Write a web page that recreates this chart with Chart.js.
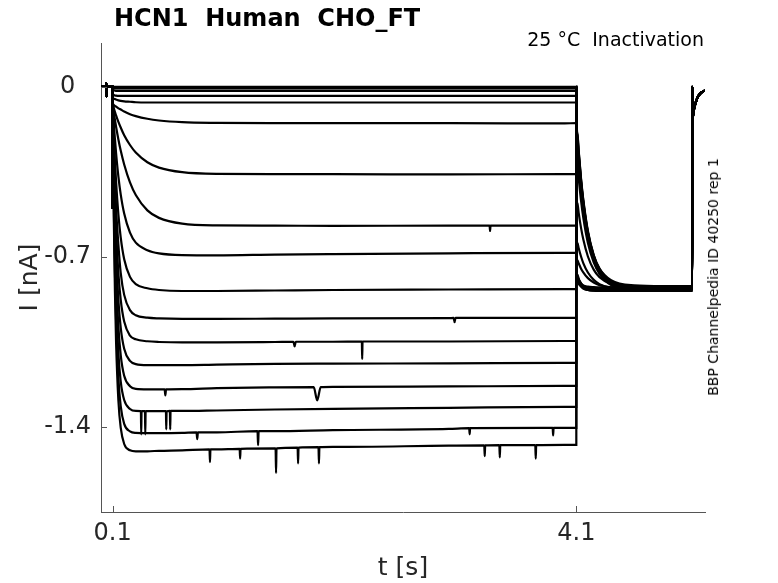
<!DOCTYPE html>
<html>
<head>
<meta charset="utf-8">
<title>HCN1 Human CHO_FT</title>
<script src="https://cdn.jsdelivr.net/npm/chart.js@4.4.1/dist/chart.umd.min.js"></script>
<style>
  html, body { margin: 0; padding: 0; background: #fff; }
  #wrap { position: relative; width: 778px; height: 583px; font-family: "DejaVu Sans", sans-serif; }
  #chart { position: absolute; left: 0; top: 0; }
  .lbl { position: absolute; line-height: 1; white-space: pre; color: #000; }
  #title { left: 114px; top: 6px; font-size: 24px; font-weight: bold; }
  #cond { right: 74px; top: 30px; font-size: 19px; }
  #src { left: 706px; top: 277px; font-size: 14px; transform-origin: 0 0; transform: rotate(-90deg) translateX(-50%); }
</style>
</head>
<body>
<div id="wrap">
  <canvas id="chart" width="778" height="583"></canvas>
  <div class="lbl" id="title">HCN1  Human  CHO_FT</div>
  <div class="lbl" id="cond">25 °C  Inactivation</div>
  <div class="lbl" id="src">BBP Channelpedia ID 40250 rep 1</div>
</div>
<script>
// tick labels
const xTicks = [0.1, 4.1];
const yTicks = [0, -0.7, -1.4];

// holding level before the step (shared by all sweeps)
const holdT = [0, 0.044, 0.046, 0.048, 0.05, 0.1];
const holdI = [0, 0, 0.016, -0.04, 0, 0];

// test step 0.1 - 4.1 s
const stepT = [0.1005, 0.101, 0.11, 0.12, 0.13, 0.15, 0.17, 0.2, 0.25, 0.3, 0.4, 0.5, 0.7, 1.0, 1.5, 2.0, 3.0, 4.0, 4.1];
const stepI = [
  [-0.5, 0, 0, 0, 0, 0, 0, 0, 0, 0, 0, 0, 0, 0, 0, 0, 0, 0, 0],
  [-0.5, -0.004, -0.005, -0.006, -0.006, -0.006, -0.006, -0.006, -0.006, -0.006, -0.006, -0.006, -0.006, -0.006, -0.006, -0.006, -0.006, -0.006, -0.006],
  [-0.5, -0.012, -0.014, -0.015, -0.016, -0.016, -0.016, -0.016, -0.016, -0.016, -0.016, -0.016, -0.016, -0.016, -0.016, -0.016, -0.016, -0.016, -0.016],
  [-0.5, -0.03, -0.033, -0.035, -0.036, -0.037, -0.037, -0.037, -0.037, -0.037, -0.037, -0.037, -0.037, -0.037, -0.037, -0.037, -0.037, -0.037, -0.037],
  [-0.5, -0.045, -0.048, -0.05, -0.052, -0.055, -0.057, -0.059, -0.061, -0.063, -0.064, -0.064, -0.064, -0.064, -0.064, -0.064, -0.064, -0.064, -0.064],
  [-0.5, -0.07, -0.074, -0.078, -0.081, -0.088, -0.093, -0.101, -0.112, -0.12, -0.131, -0.138, -0.145, -0.148, -0.149, -0.149, -0.149, -0.15, -0.149],
  [-0.5, -0.07, -0.087, -0.102, -0.117, -0.144, -0.167, -0.199, -0.239, -0.27, -0.31, -0.332, -0.351, -0.358, -0.359, -0.359, -0.36, -0.359, -0.359],
  [-0.5, -0.07, -0.103, -0.135, -0.164, -0.216, -0.262, -0.319, -0.393, -0.445, -0.508, -0.539, -0.563, -0.57, -0.571, -0.572, -0.571, -0.571, -0.571],
  [-0.5, -0.07, -0.147, -0.213, -0.272, -0.369, -0.442, -0.521, -0.6, -0.641, -0.672, -0.685, -0.692, -0.693, -0.69, -0.688, -0.685, -0.683, -0.683],
  [-0.5, -0.07, -0.196, -0.302, -0.39, -0.525, -0.619, -0.709, -0.782, -0.812, -0.829, -0.836, -0.84, -0.84, -0.838, -0.836, -0.834, -0.832, -0.832],
  [-0.5, -0.07, -0.245, -0.386, -0.499, -0.65, -0.765, -0.856, -0.919, -0.94, -0.95, -0.953, -0.955, -0.955, -0.954, -0.953, -0.952, -0.951, -0.951],
  [-0.5, -0.07, -0.286, -0.454, -0.585, -0.766, -0.876, -0.966, -1.024, -1.039, -1.047, -1.05, -1.052, -1.052, -1.05, -1.049, -1.048, -1.046, -1.046],
  [-0.5, -0.07, -0.331, -0.528, -0.677, -0.877, -0.991, -1.078, -1.128, -1.141, -1.145, -1.145, -1.145, -1.143, -1.14, -1.139, -1.138, -1.136, -1.136],
  [-0.5, -0.07, -0.377, -0.605, -0.771, -0.987, -1.104, -1.189, -1.232, -1.243, -1.245, -1.245, -1.244, -1.24, -1.237, -1.235, -1.233, -1.231, -1.231],
  [-0.5, -0.07, -0.428, -0.686, -0.869, -1.096, -1.212, -1.289, -1.326, -1.334, -1.335, -1.335, -1.334, -1.332, -1.328, -1.325, -1.321, -1.317, -1.317],
  [-0.5, -0.07, -0.477, -0.761, -0.96, -1.197, -1.314, -1.387, -1.418, -1.424, -1.425, -1.425, -1.424, -1.422, -1.417, -1.413, -1.408, -1.404, -1.404],
  [-0.5, -0.07, -0.526, -0.838, -1.05, -1.291, -1.403, -1.47, -1.496, -1.5, -1.5, -1.498, -1.496, -1.492, -1.488, -1.482, -1.477, -1.474, -1.474]
];

// tail step 4.1 - 5.1 s
const tailT = [4.1005, 4.101, 4.11, 4.12, 4.14, 4.16, 4.2, 4.25, 4.3, 4.4, 4.6, 4.85, 5.1];
const tailI = [
  [0, -0.12, -0.194, -0.26, -0.373, -0.463, -0.593, -0.692, -0.749, -0.8, -0.822, -0.825, -0.825],
  [-0.006, -0.125, -0.199, -0.265, -0.378, -0.468, -0.598, -0.697, -0.754, -0.805, -0.827, -0.83, -0.83],
  [-0.016, -0.135, -0.209, -0.274, -0.386, -0.476, -0.605, -0.703, -0.759, -0.81, -0.832, -0.835, -0.835],
  [-0.037, -0.15, -0.22, -0.283, -0.391, -0.476, -0.6, -0.693, -0.748, -0.796, -0.817, -0.82, -0.82],
  [-0.064, -0.17, -0.24, -0.303, -0.411, -0.496, -0.62, -0.713, -0.768, -0.816, -0.837, -0.84, -0.84],
  [-0.149, -0.26, -0.32, -0.373, -0.465, -0.538, -0.642, -0.722, -0.768, -0.809, -0.828, -0.83, -0.83],
  [-0.359, -0.44, -0.48, -0.517, -0.578, -0.627, -0.698, -0.752, -0.783, -0.811, -0.823, -0.825, -0.825],
  [-0.571, -0.62, -0.643, -0.663, -0.697, -0.725, -0.764, -0.794, -0.812, -0.827, -0.834, -0.835, -0.835],
  [-0.683, -0.7, -0.714, -0.726, -0.747, -0.763, -0.787, -0.805, -0.816, -0.825, -0.83, -0.83, -0.83],
  [0, -0.79, -0.8, -0.81, -0.822, -0.83, -0.836, -0.839, -0.84, -0.84, -0.84, -0.84, -0.84],
  [0, -0.78, -0.792, -0.802, -0.815, -0.822, -0.828, -0.83, -0.83, -0.83, -0.83, -0.83, -0.83],
  [0, -0.775, -0.79, -0.803, -0.818, -0.826, -0.832, -0.834, -0.835, -0.835, -0.835, -0.835, -0.835],
  [0, -0.77, -0.783, -0.795, -0.809, -0.817, -0.822, -0.824, -0.825, -0.825, -0.825, -0.825, -0.825],
  [0, -0.77, -0.787, -0.801, -0.819, -0.829, -0.836, -0.839, -0.84, -0.84, -0.84, -0.84, -0.84],
  [0, -0.765, -0.781, -0.795, -0.811, -0.82, -0.827, -0.829, -0.83, -0.83, -0.83, -0.83, -0.83],
  [0, -0.76, -0.778, -0.794, -0.813, -0.824, -0.831, -0.834, -0.835, -0.835, -0.835, -0.835, -0.835],
  [0, -0.755, -0.773, -0.789, -0.808, -0.819, -0.826, -0.829, -0.83, -0.83, -0.83, -0.83, -0.83]
];

// back to holding at 5.1 s (shared)
const endT = [5.1005, 5.101, 5.11, 5.12, 5.14, 5.16, 5.2, 5.21];
const endI = [0, -0.135, -0.104, -0.081, -0.05, -0.032, -0.017, -0.016];

// visible glitches: [sweep, t, peak, base, half width in s]
const glitches = [
  [8, 3.356, -0.593, -0.571, 0.004],
  [11, 3.05, -0.968, -0.951, 0.008],
  [12, 1.67, -1.068, -1.049, 0.01],
  [12, 2.253, -1.12, -1.048, 0.003],
  [14, 0.555, -1.27, -1.245, 0.006],
  [14, 1.865, -1.29, -1.236, 0.03],
  [15, 0.347, -1.43, -1.335, 0.003],
  [15, 0.382, -1.43, -1.335, 0.003],
  [15, 0.563, -1.41, -1.335, 0.003],
  [15, 0.597, -1.41, -1.334, 0.003],
  [16, 0.83, -1.45, -1.422, 0.006],
  [16, 1.355, -1.475, -1.417, 0.005],
  [16, 3.18, -1.43, -1.405, 0.004],
  [16, 3.9, -1.435, -1.404, 0.004],
  [17, 0.94, -1.545, -1.492, 0.004],
  [17, 1.2, -1.53, -1.49, 0.004],
  [17, 1.51, -1.59, -1.488, 0.004],
  [17, 1.7, -1.55, -1.485, 0.004],
  [17, 1.88, -1.55, -1.483, 0.004],
  [17, 3.31, -1.52, -1.476, 0.004],
  [17, 3.44, -1.525, -1.475, 0.004],
  [17, 3.75, -1.53, -1.475, 0.004]
];

const datasets = stepI.map((row, k) => {
  const pts = [];
  holdT.forEach((t, i) => pts.push({ x: t, y: holdI[i] }));
  stepT.forEach((t, i) => pts.push({ x: t, y: row[i] }));
  tailT.forEach((t, i) => pts.push({ x: t, y: tailI[k][i] }));
  endT.forEach((t, i) => pts.push({ x: t, y: endI[i] }));
  glitches.filter(g => g[0] === k + 1).forEach(([, t, peak, base, half]) => {
    pts.push({ x: t - half, y: base }, { x: t, y: peak }, { x: t + half, y: base });
  });
  pts.sort((a, b) => a.x - b.x);
  return {
    data: pts,
    borderColor: '#000',
    borderWidth: 2.2,
    pointRadius: 0,
    fill: false,
    cubicInterpolationMode: 'monotone'
  };
});

const axisColor = '#555';
const textColor = '#262626';

// MATLAB-style ticks pointing into the plot
const inwardTicks = {
  id: 'inwardTicks',
  afterDraw(chart) {
    const { ctx, chartArea: a, scales: { x, y } } = chart;
    ctx.save();
    ctx.strokeStyle = axisColor;
    ctx.lineWidth = 1;
    ctx.beginPath();
    xTicks.forEach(v => {
      const px = Math.round(x.getPixelForValue(v)) + 0.5;
      ctx.moveTo(px, a.bottom);
      ctx.lineTo(px, a.bottom - 6);
    });
    yTicks.forEach(v => {
      const py = Math.round(y.getPixelForValue(v)) + 0.5;
      ctx.moveTo(a.left, py);
      ctx.lineTo(a.left + 6, py);
    });
    ctx.stroke();
    ctx.restore();
  }
};

new Chart(document.getElementById('chart'), {
  type: 'line',
  data: { datasets },
  options: {
    responsive: false,
    animation: false,
    events: [],
    layout: { padding: { left: 0, right: 73, top: 43, bottom: 0 } },
    plugins: { legend: { display: false }, tooltip: { enabled: false } },
    scales: {
      x: {
        type: 'linear',
        min: 0,
        max: 5.21,
        afterFit: s => { s.height = 71; },
        afterBuildTicks: s => { s.ticks = xTicks.map(v => ({ value: v })); },
        grid: { display: true, drawOnChartArea: false, drawTicks: false },
        border: { display: true, color: axisColor, width: 1 },
        ticks: {
          color: textColor,
          font: { family: 'DejaVu Sans', size: 24 },
          padding: 7,
          maxRotation: 0,
          autoSkip: false,
          callback: v => v.toFixed(1)
        },
        title: {
          display: true,
          text: 't [s]',
          color: textColor,
          font: { family: 'DejaVu Sans', size: 25 },
          padding: { top: 0, bottom: 0 }
        }
      },
      y: {
        type: 'linear',
        min: -1.75,
        max: 0.181,
        afterFit: s => { s.width = 101; },
        afterBuildTicks: s => { s.ticks = yTicks.map(v => ({ value: v })); },
        grid: { display: true, drawOnChartArea: false, drawTicks: false },
        border: { display: true, color: axisColor, width: 1 },
        ticks: {
          color: textColor,
          font: { family: 'DejaVu Sans', size: 24 },
          padding: 10,
          crossAlign: 'center',
          autoSkip: false,
          callback: v => (v === 0 ? '0' : v.toFixed(1))
        },
        title: {
          display: true,
          text: 'I [nA]',
          color: textColor,
          font: { family: 'DejaVu Sans', size: 25 },
          padding: { top: 15, bottom: 0 }
        }
      }
    }
  },
  plugins: [inwardTicks]
});
</script>
</body>
</html>
